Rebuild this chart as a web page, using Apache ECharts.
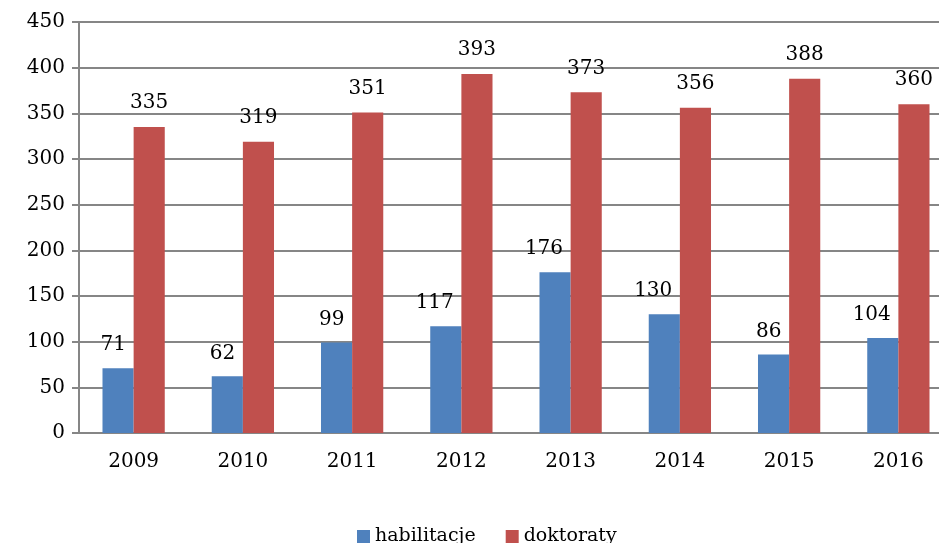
<!DOCTYPE html>
<html>
<head>
<meta charset="utf-8">
<script src="https://cdn.jsdelivr.net/npm/echarts@6/dist/echarts.min.js"></script>
<style>
  html, body { margin: 0; padding: 0; background: #fff; }
  #chart { width: 939px; height: 543px; }
</style>
</head>
<body>
<div id="chart"></div>
<script>
const years = ['2009', '2010', '2011', '2012', '2013', '2014', '2015', '2016']
const habilitacje = [71, 62, 99, 117, 176, 130, 86, 104]
const doktoraty = [335, 319, 351, 393, 373, 356, 388, 360]
const seriesNames = ['habilitacje', 'doktoraty']

const font = 'DejaVu Serif'
const chart = echarts.init(document.getElementById('chart'))

const txt = (size) => ({ color: '#000', fontFamily: font, fontSize: size, fontWeight: 'normal' })

chart.setOption({
  animation: false,
  grid: { left: 79, top: 22, width: 874, height: 411, outerBoundsMode: 'none', containLabel: false },
  legend: {
    bottom: -8,
    left: 352,
    itemWidth: 13,
    itemHeight: 13,
    itemGap: 30,
    icon: 'rect',
    textStyle: txt(19),
    data: seriesNames
  },
  xAxis: {
    type: 'category',
    data: years,
    axisLine: { lineStyle: { color: '#868686', width: 2 } },
    axisTick: { length: 7, lineStyle: { color: '#868686', width: 2 } },
    axisLabel: Object.assign({ margin: 19 }, txt(20))
  },
  yAxis: {
    type: 'value',
    min: 0,
    max: 450,
    interval: 50,
    axisLine: { show: true, lineStyle: { color: '#868686', width: 2 } },
    axisTick: { show: true, length: 7, lineStyle: { color: '#868686', width: 2 } },
    splitLine: { lineStyle: { color: '#868686', width: 2 } },
    axisLabel: Object.assign({ margin: 14 }, txt(20))
  },
  series: [
    {
      name: seriesNames[0],
      type: 'bar',
      data: habilitacje,
      barGap: '0%',
      barCategoryGap: '43%',
      itemStyle: { color: '#4F81BD' },
      label: Object.assign({
        show: true,
        position: 'top',
        distance: 13,
        align: 'right',
        offset: [8, 0]
      }, txt(20))
    },
    {
      name: seriesNames[1],
      type: 'bar',
      data: doktoraty,
      barGap: '0%',
      barCategoryGap: '43%',
      itemStyle: { color: '#C0504D' },
      label: Object.assign({
        show: true,
        position: 'top',
        distance: 14
      }, txt(20))
    }
  ]
})
</script>
</body>
</html>
